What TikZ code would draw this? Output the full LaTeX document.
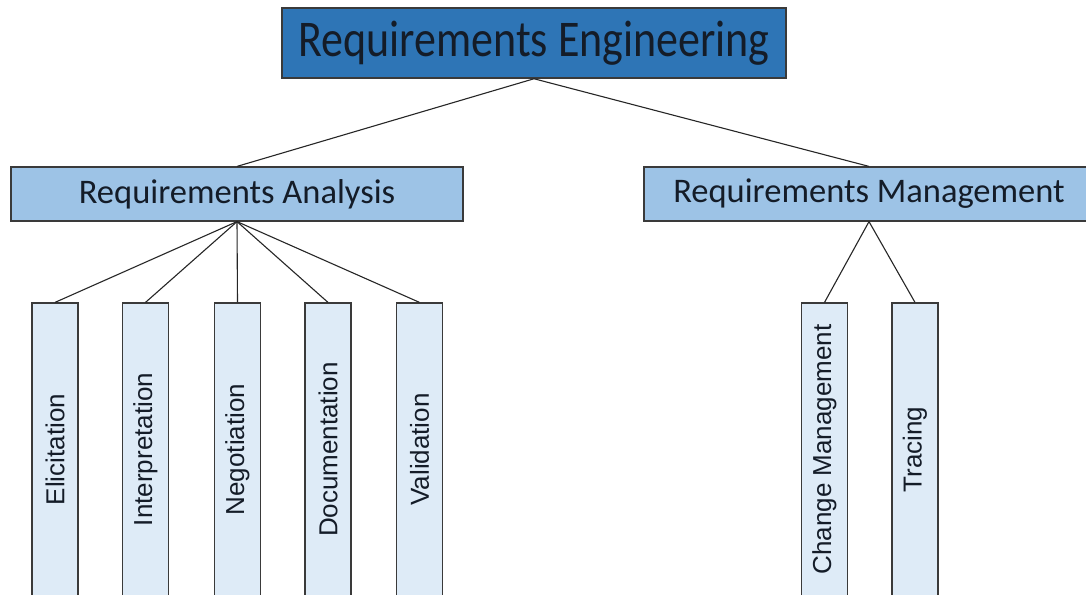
\documentclass[tikz,border=0pt]{standalone}
\usepackage{fontspec}
\setmainfont{Carlito}
\newfontfamily\arialish{Liberation Sans}
\definecolor{topfill}{HTML}{2E75B6}
\definecolor{midfill}{HTML}{9DC3E6}
\definecolor{lowfill}{HTML}{DEEBF7}
\definecolor{edgecol}{HTML}{3A3A3A}
\definecolor{txtcol}{HTML}{141C28}
\tikzset{
  topbox/.style={draw=edgecol, line width=1.5pt, fill=topfill, text=txtcol, inner sep=0pt,
    minimum width=504pt, minimum height=70pt, font=\fontsize{44}{50}\selectfont},
  midbox/.style={draw=edgecol, line width=1.2pt, fill=midfill, text=txtcol, inner sep=0pt,
    minimum width=452pt, minimum height=54pt, font=\fontsize{34.5}{40}\selectfont},
  lowbox/.style={draw=edgecol, line width=1.2pt, fill=lowfill, inner sep=0pt,
    minimum width=46pt, minimum height=293pt},
  lowtext/.style={rotate=90, text=txtcol, font=\arialish\fontsize{26}{30}\selectfont},
  link/.style={draw=black!85, line width=1.1pt}
}
\begin{document}
\begin{tikzpicture}[x=1pt,y=-1pt]
\useasboundingbox (0,0) rectangle (1086,594);
\clip (0,0) rectangle (1086,594);
\fill[white] (0,0) rectangle (1086,594);
% boxes
\node[topbox] (re) at (534,43) {\scalebox{1}[1.17]{Requirements Engineering}};
\node[midbox] (ra) at (237,194) {Requirements Analysis};
\node[midbox, minimum width=450pt] (rm) at (869,194) {Requirements Management};
\node[lowbox] (eli) at (55,449.5) {};
\node[lowbox] (int) at (145.5,449.5) {};
\node[lowbox] (neg) at (237.5,449.5) {};
\node[lowbox] (doc) at (328,449.5) {};
\node[lowbox] (val) at (419.5,449.5) {};
\node[lowbox] (chg) at (824.5,449.5) {};
\node[lowbox] (trc) at (915,449.5) {};
\node[lowtext] (elit) at (eli.center) {Elicitation};
\node[lowtext] (intt) at (int.center) {Interpretation};
\node[lowtext] (negt) at (neg.center) {Negotiation};
\node[lowtext] (doct) at (doc.center) {Documentation};
\node[lowtext] (valt) at (val.center) {Validation};
\node[lowtext] (chgt) at (chg.center) {Change Management};
\node[lowtext] (trct) at (trc.center) {Tracing};
% connectors
\draw[link] (re.south) -- (ra.north);
\draw[link] (re.south) -- (rm.north);
\foreach \b in {eli,int,neg,doc,val} \draw[link] (ra.south) -- (\b.north);
\foreach \b in {chg,trc} \draw[link] (rm.south) -- (\b.north);
\end{tikzpicture}
\end{document}
